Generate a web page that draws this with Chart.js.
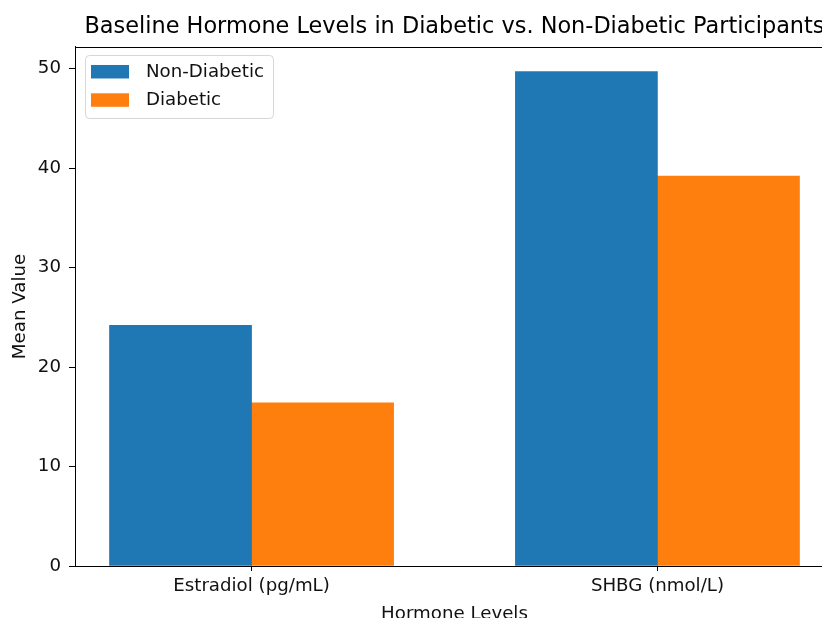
<!DOCTYPE html>
<html>
<head>
<meta charset="utf-8">
<script src="https://cdn.jsdelivr.net/npm/chart.js@4/dist/chart.umd.min.js"></script>
<style>
  html, body { margin: 0; padding: 0; background: #fff; overflow: hidden; }
  #wrap { position: absolute; left: 0; top: 0; width: 909px; height: 640px; }
</style>
</head>
<body>
<div id="wrap"><canvas id="c" width="909" height="640"></canvas></div>
<script>
// Hormone measurements (means) per group
const categories = ['Estradiol (pg/mL)', 'SHBG (nmol/L)'];
const nonDiabetic = [24.2, 49.7];
const diabetic = [16.4, 39.2];
const seriesNames = ['Non-Diabetic', 'Diabetic'];
const seriesColors = ['#1f77b4', '#ff7f0e'];

const BAR_W = 0.35;           // bar width in category units
const FONT = "'DejaVu Sans', sans-serif";
const TEXT = '#111';
const LABEL_SIZE = 18.2;

// x positions: each group is centred on its category index
const toPoints = (vals, shift) => vals.map((v, i) => ({ x: i + shift, y: v }));

const span = (categories.length - 1) + 2 * BAR_W;
const xMin = -BAR_W - 0.05 * span;
const xMax = (categories.length - 1) + BAR_W + 0.05 * span;
const yMax = Math.max(...nonDiabetic, ...diabetic) * 1.05;

// Full frame around the plotting area
const frame = {
  id: 'frame',
  afterDraw(chart) {
    const { ctx, chartArea: a } = chart;
    ctx.save();
    ctx.strokeStyle = '#000';
    ctx.lineWidth = 1;
    ctx.strokeRect(Math.round(a.left) + 0.5, Math.round(a.top) + 0.5,
                   Math.round(a.right - a.left), Math.round(a.bottom - a.top));
    ctx.restore();
  }
};

// Boxed legend in the upper-left corner of the plot
const boxLegend = {
  id: 'boxLegend',
  afterDraw(chart) {
    const { ctx, chartArea: a } = chart;
    const x0 = a.left + 10, y0 = a.top + 8, w = 188, h = 63, r = 4;
    ctx.save();
    ctx.globalAlpha = 0.8;
    ctx.fillStyle = '#fff';
    ctx.strokeStyle = '#ccc';
    ctx.lineWidth = 1;
    ctx.beginPath();
    ctx.roundRect(x0 + 0.5, y0 + 0.5, w, h, r);
    ctx.fill();
    ctx.stroke();
    ctx.globalAlpha = 1;
    ctx.font = LABEL_SIZE + 'px ' + FONT;
    ctx.textBaseline = 'middle';
    ctx.textAlign = 'left';
    chart.data.datasets.forEach((ds, i) => {
      const cy = y0 + 17 + i * 28.3;
      ctx.fillStyle = ds.backgroundColor;
      ctx.fillRect(x0 + 6, cy - 7, 38, 13.5);
      ctx.fillStyle = TEXT;
      ctx.fillText(ds.label, x0 + 61, cy);
    });
    ctx.restore();
  }
};

new Chart(document.getElementById('c'), {
  type: 'bar',
  data: {
    datasets: [
      { label: seriesNames[0], data: toPoints(nonDiabetic, -BAR_W / 2), backgroundColor: seriesColors[0] },
      { label: seriesNames[1], data: toPoints(diabetic, BAR_W / 2), backgroundColor: seriesColors[1] }
    ]
  },
  options: {
    responsive: false,
    animation: false,
    devicePixelRatio: 1,
    layout: { padding: { left: 0, right: 75, top: 0, bottom: 0 } },
    datasets: { bar: { grouped: false, barPercentage: 1, categoryPercentage: 1, borderWidth: 0 } },
    plugins: {
      legend: { display: false },
      tooltip: { enabled: false },
      title: {
        display: true,
        fullSize: false,
        text: 'Baseline Hormone Levels in Diabetic vs. Non-Diabetic Participants',
        color: '#000',
        font: { family: FONT, size: 22.4, weight: 'normal', lineHeight: 1.2 },
        padding: { top: 13.5, bottom: 6.6 }
      }
    },
    scales: {
      x: {
        type: 'linear',
        offset: false,
        min: xMin,
        max: xMax,
        afterBuildTicks: s => { s.ticks = categories.map((c, i) => ({ value: i })); },
        afterFit: s => { s.height = 74; },
        grid: { display: true, offset: false, drawOnChartArea: false, drawTicks: true, tickLength: 5, color: '#000' },
        border: { display: true, color: '#000', width: 1 },
        ticks: {
          autoSkip: false, maxRotation: 0, padding: 4, color: TEXT,
          font: { family: FONT, size: LABEL_SIZE },
          callback: v => categories[v]
        },
        title: {
          display: true, text: 'Hormone Levels', color: TEXT,
          font: { family: FONT, size: LABEL_SIZE, lineHeight: 1 },
          padding: { top: 0, bottom: 17 }
        }
      },
      y: {
        min: 0,
        max: yMax,
        afterFit: s => { s.width = 75; },
        grid: { display: true, drawOnChartArea: false, drawTicks: true, tickLength: 6, color: '#000' },
        border: { display: true, color: '#000', width: 1 },
        ticks: {
          stepSize: 10, includeBounds: false, padding: 8, color: TEXT,
          font: { family: FONT, size: LABEL_SIZE }
        },
        title: {
          display: true, text: 'Mean Value', color: TEXT,
          font: { family: FONT, size: LABEL_SIZE, lineHeight: 1 },
          padding: { top: 11, bottom: 0 }
        }
      }
    }
  },
  plugins: [frame, boxLegend]
});
</script>
</body>
</html>
